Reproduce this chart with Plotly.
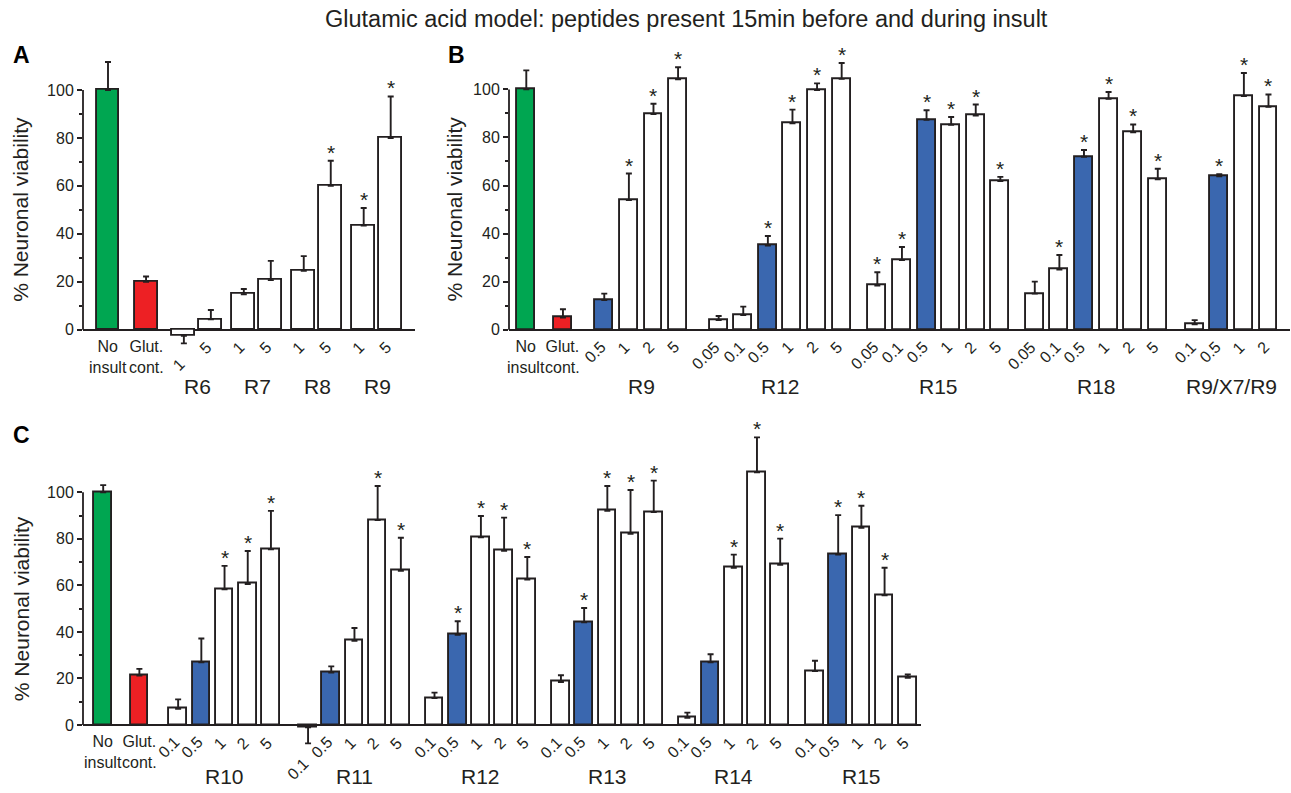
import plotly.graph_objects as go

W, H = 1291, 793
FONT = "Liberation Sans, Arial, Helvetica, sans-serif"
INK = "#231f20"

title_text = "Glutamic acid model: peptides present 15min before and during insult"
y_title = "% Neuronal viability"
ctrl_labels = ["No<br>insult", "Glut.<br>cont."]
ctrl_colors = ["#00a651", "#ed2024"]
highlight_dose = "0.5"
highlight_color = "#3a67af"
plain_color = "#ffffff"

# ---------------- Panel A ----------------
A_ctrl_vals = [100, 20.0]
A_ctrl_err = [11.7, 2.2]
A_groups = ["R6", "R7", "R8", "R9"]
A_doses = [["1", "5"], ["1", "5"], ["1", "5"], ["1", "5"]]
A_vals = [[-2.5, 4.3], [14.8, 20.7], [24.6, 60.0], [43.5, 80.0]]
A_errs = [[3.2, 3.9], [2.2, 8.0], [6.1, 10.5], [7.3, 17.3]]
A_sig = [[0, 0], [0, 0], [0, 1], [1, 1]]

# ---------------- Panel B ----------------
B_ctrl_vals = [100, 5.1]
B_ctrl_err = [7.9, 3.4]
B_groups = ["R9", "R12", "R15", "R18", "R9/X7/R9"]
B_doses = [["0.5", "1", "2", "5"],
           ["0.05", "0.1", "0.5", "1", "2", "5"],
           ["0.05", "0.1", "0.5", "1", "2", "5"],
           ["0.05", "0.1", "0.5", "1", "2", "5"],
           ["0.1", "0.5", "1", "2"]]
B_vals = [[12.3, 54.0, 89.7, 104.2],
          [4.0, 6.1, 35.0, 85.9, 99.7, 104.4],
          [18.4, 29.0, 87.4, 85.3, 89.1, 61.9],
          [15.0, 25.0, 72.0, 96.1, 82.2, 62.6],
          [2.2, 63.8, 97.2, 92.8]]
B_errs = [[2.7, 11.0, 4.3, 5.0],
          [1.7, 3.5, 4.0, 5.7, 2.8, 6.6],
          [5.5, 5.4, 3.9, 3.2, 4.6, 1.7],
          [5.0, 6.1, 2.8, 2.8, 3.2, 4.4],
          [1.8, 0.9, 9.6, 5.1]]
B_sig = [[0, 1, 1, 1],
         [0, 0, 1, 1, 1, 1],
         [1, 1, 1, 1, 1, 1],
         [0, 1, 1, 1, 1, 1],
         [0, 1, 1, 1]]

# ---------------- Panel C ----------------
C_ctrl_vals = [100, 21.2]
C_ctrl_err = [3.1, 2.9]
C_groups = ["R10", "R11", "R12", "R13", "R14", "R15"]
C_doses = [["0.1", "0.5", "1", "2", "5"]] * 6
C_vals = [[7.0, 26.9, 58.3, 60.6, 75.5],
          [-1.0, 22.5, 36.2, 88.1, 66.3],
          [11.6, 38.8, 80.7, 74.9, 62.5],
          [18.5, 44.1, 92.1, 82.2, 91.5],
          [3.1, 26.9, 67.6, 108.6, 68.8],
          [23.2, 73.2, 84.7, 55.7, 20.3]]
C_errs = [[4.0, 10.3, 10.1, 14.2, 16.5],
          [6.9, 2.7, 5.5, 14.6, 14.2],
          [2.3, 5.8, 9.1, 14.2, 9.7],
          [2.9, 6.2, 10.6, 18.8, 13.5],
          [2.2, 3.5, 5.6, 15.0, 11.3],
          [4.4, 17.0, 9.5, 11.9, 1.4]]
C_sig = [[0, 0, 1, 1, 1],
         [0, 0, 0, 1, 1],
         [0, 1, 1, 1, 1],
         [0, 1, 1, 1, 1],
         [0, 0, 1, 1, 1],
         [0, 1, 1, 1, 0]]

# ---------------- layout geometry (pixels) ----------------
panels = [
    dict(ctrl_vals=A_ctrl_vals, ctrl_err=A_ctrl_err, groups=A_groups, doses=A_doses,
         vals=A_vals, errs=A_errs, sig=A_sig,
         ctrl_gap=1.41, first_gap=1.40, group_gaps=[1.22, 1.22, 1.22],
         px0=83, px1=415, first_px=108, pitch=27, bar_w=0.85,
         zero_px=329.7, ppu=2.397, yr=(-12, 118),
         ytitle_x=21, letter="A", letter_xy=(11, 55), group_dy=57),
    dict(ctrl_vals=B_ctrl_vals, ctrl_err=B_ctrl_err, groups=B_groups, doses=B_doses,
         vals=B_vals, errs=B_errs, sig=B_sig,
         ctrl_gap=1.49, first_gap=1.68, group_gaps=[1.65, 1.45, 1.40, 1.50],
         px0=509, px1=1290, first_px=526.3, pitch=24.6, bar_w=0.73,
         zero_px=329.7, ppu=2.403, yr=(-12, 118),
         ytitle_x=455, letter="B", letter_xy=(446, 55), group_dy=57),
    dict(ctrl_vals=C_ctrl_vals, ctrl_err=C_ctrl_err, groups=C_groups, doses=C_doses,
         vals=C_vals, errs=C_errs, sig=C_sig,
         ctrl_gap=1.56, first_gap=1.67, group_gaps=[1.60, 1.45, 1.45, 1.45, 1.50],
         px0=83, px1=921, first_px=103.2, pitch=23.2, bar_w=0.76,
         zero_px=725, ppu=2.327, yr=(-12, 130),
         ytitle_x=21.5, letter="C", letter_xy=(11, 435), group_dy=51),
]

fig = go.Figure()
annotations = []
shapes = []
layout_axes = {}

for i, p in enumerate(panels):
    k = "" if i == 0 else str(i + 1)
    xref, yref = "x" + k, "y" + k

    # bar positions
    ctrl_x = [0.0, p["ctrl_gap"]]
    xs_groups = []
    cur = p["ctrl_gap"] + p["first_gap"]
    for gi, ds in enumerate(p["doses"]):
        if gi > 0:
            cur += p["group_gaps"][gi - 1]
        gx = [cur + j for j in range(len(ds))]
        xs_groups.append(gx)
        cur = gx[-1]

    xs = list(ctrl_x)
    ys = list(p["ctrl_vals"])
    es = list(p["ctrl_err"])
    cols = list(ctrl_colors)
    sigs = [0, 0]
    for gx, ds, vs, er, sg in zip(xs_groups, p["doses"], p["vals"], p["errs"], p["sig"]):
        xs += gx
        ys += vs
        es += er
        sigs += sg
        cols += [highlight_color if d == highlight_dose else plain_color for d in ds]

    up = [e if v >= 0 else 0 for v, e in zip(ys, es)]
    down = [0 if v >= 0 else e for v, e in zip(ys, es)]

    fig.add_trace(go.Bar(
        x=xs, y=ys, width=p["bar_w"], xaxis=xref, yaxis=yref,
        marker=dict(color=cols, line=dict(color=INK, width=1.9)),
        error_y=dict(type="data", symmetric=False, array=up, arrayminus=down,
                     color=INK, thickness=1.9, width=3),
        showlegend=False, hoverinfo="x+y",
    ))

    # axes
    xlo = (p["px0"] - p["first_px"]) / p["pitch"]
    xhi = (p["px1"] - p["first_px"]) / p["pitch"]
    ylo, yhi = p["yr"]
    bottom_px = p["zero_px"] - ylo * p["ppu"]
    top_px = p["zero_px"] - yhi * p["ppu"]
    layout_axes["xaxis" + k] = dict(
        domain=[p["px0"] / W, p["px1"] / W], range=[xlo, xhi], anchor=yref,
        showticklabels=False, ticks="", showgrid=False, zeroline=False, showline=False)
    layout_axes["yaxis" + k] = dict(
        domain=[1 - bottom_px / H, 1 - top_px / H], range=[ylo, yhi], anchor=xref,
        tickvals=[0, 20, 40, 60, 80, 100], ticks="outside", ticklen=5, tickwidth=1.6,
        tickcolor=INK, showgrid=False, showline=False,
        zeroline=True, zerolinecolor=INK, zerolinewidth=1.8,
        tickfont=dict(family=FONT, size=16, color=INK),
        minor=dict(tickvals=[10, 30, 50, 70, 90], ticks="outside", ticklen=3,
                   tickwidth=1.6, tickcolor=INK, showgrid=False))

    # y axis line from 0 to 100
    shapes.append(dict(type="line", xref=xref + " domain", yref=yref,
                       x0=0, x1=0, y0=0, y1=100, line=dict(color=INK, width=1.8)))

    # y title
    annotations.append(dict(xref="paper", yref=yref, x=p["ytitle_x"] / W, y=50,
                            text=y_title, textangle=-90, showarrow=False,
                            font=dict(family=FONT, size=21, color=INK),
                            xanchor="center", yanchor="middle"))
    # panel letter
    lx, ly = p["letter_xy"]
    annotations.append(dict(xref="paper", yref="paper", x=lx / W, y=1 - ly / H,
                            text="<b>" + p["letter"] + "</b>", showarrow=False,
                            font=dict(family=FONT, size=23, color="#000000"),
                            xanchor="left", yanchor="middle"))
    # control labels
    for cx, lab in zip(ctrl_x, ctrl_labels):
        annotations.append(dict(xref=xref, yref=yref, x=cx, y=0, yshift=-6,
                                text=lab, showarrow=False,
                                font=dict(family=FONT, size=16, color=INK),
                                xanchor="center", yanchor="top"))
    # dose labels and group labels
    for gx, ds, vs, er, gname in zip(xs_groups, p["doses"], p["vals"], p["errs"], p["groups"]):
        for x, d, v, e in zip(gx, ds, vs, er):
            neg = v < 0
            annotations.append(dict(xref=xref, yref=yref, x=x, y=(v - e) if neg else 0,
                                    xshift=7, yshift=-9 if neg else -6,
                                    text=d, textangle=-45, showarrow=False,
                                    font=dict(family=FONT, size=16, color=INK),
                                    xanchor="right", yanchor="top"))
        annotations.append(dict(xref=xref, yref=yref, x=(gx[0] + gx[-1]) / 2, y=0,
                                yshift=-p["group_dy"], text=gname, showarrow=False,
                                font=dict(family=FONT, size=21, color=INK),
                                xanchor="center", yanchor="middle"))
    # significance stars
    for x, v, e, s in zip(xs, ys, es, sigs):
        if s:
            annotations.append(dict(xref=xref, yref=yref, x=x, y=v + e, yshift=-5,
                                    text="*", showarrow=False,
                                    font=dict(family=FONT, size=21, color=INK),
                                    xanchor="center", yanchor="bottom"))

# title
annotations.append(dict(xref="paper", yref="paper", x=686.5 / W, y=1 - 19 / H,
                        text=title_text, showarrow=False,
                        font=dict(family=FONT, size=23.5, color=INK),
                        xanchor="center", yanchor="middle"))

fig.update_layout(
    width=W, height=H, margin=dict(l=0, r=0, t=0, b=0),
    paper_bgcolor="white", plot_bgcolor="rgba(0,0,0,0)",
    showlegend=False, bargap=0,
    annotations=annotations, shapes=shapes,
    **layout_axes,
)

fig.write_html("out.html")
